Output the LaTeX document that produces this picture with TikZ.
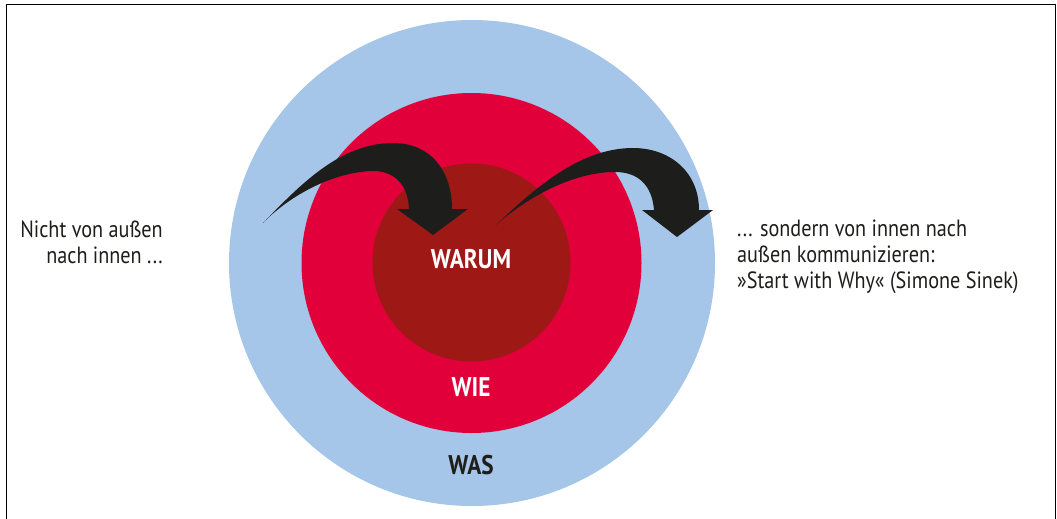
\documentclass[tikz,border=0pt]{standalone}
\usepackage{fontspec}
\setmainfont{PT Sans}[FakeStretch=0.86]
\definecolor{lblue}{HTML}{A5C6E8}
\definecolor{cred}{HTML}{E2003B}
\definecolor{dred}{HTML}{9E1916}
\definecolor{ink}{HTML}{1D1D1B}
\tikzset{
  ring/.style={circle, inner sep=0pt, minimum size=#1},
  core/.style={font=\bfseries\fontsize{27}{30}\selectfont},
  side/.style={font=\fontsize{23.5}{26}\selectfont, text=ink, inner sep=0pt},
  bigarrow/.style={fill=ink}
}
\begin{document}
\begin{tikzpicture}[x=1pt,y=-1pt]
\useasboundingbox (0,0) rectangle (1057,519);
\clip (0,0) rectangle (1057,519);
\draw[line width=1.3pt] (6.5,540) -- (6.5,4.5) -- (1055.5,4.5) -- (1055.5,540);
% circles
\node[ring=486pt, fill=lblue] (was) at (472,263) {};
\node[ring=340pt, fill=cred] (wie) at (471.5,263) {};
\node[ring=198pt, fill=dred] (warum) at (471.5,262.5) {};
% left arrow
\fill[bigarrow] (263,223)
  .. controls (300,185) and (340,143) .. (393,143)
  .. controls (430,143) and (452,170) .. (452,209)
  -- (468,209) -- (433,235) -- (397,209) -- (409,209)
  .. controls (408,185) and (395,172) .. (375,171)
  .. controls (335,171) and (290,195) .. (263,223) -- cycle;
% right arrow
\fill[bigarrow] (496,225)
  .. controls (535,188) and (580,148) .. (633,148)
  .. controls (670,148) and (699,172) .. (699,210)
  -- (713,210) -- (677,237) -- (642,210) -- (654,210)
  .. controls (652,185) and (638,172) .. (615,172)
  .. controls (575,172) and (530,195) .. (496,225) -- cycle;
% labels
\node[core, text=white] (twarum) at (471,259) {WARUM};
\node[core, text=white] (twie) at (471,387) {WIE};
\node[core, text=ink] (twas) at (471,465) {WAS};
\node[side, align=right, anchor=north east] (left) at (163,221) {Nicht von außen\\nach innen ...};
\node[side, align=left, anchor=north west] (right) at (737,220) {... sondern von innen nach\\außen kommunizieren:\\»Start with Why« (Simone Sinek)};
\end{tikzpicture}
\end{document}
